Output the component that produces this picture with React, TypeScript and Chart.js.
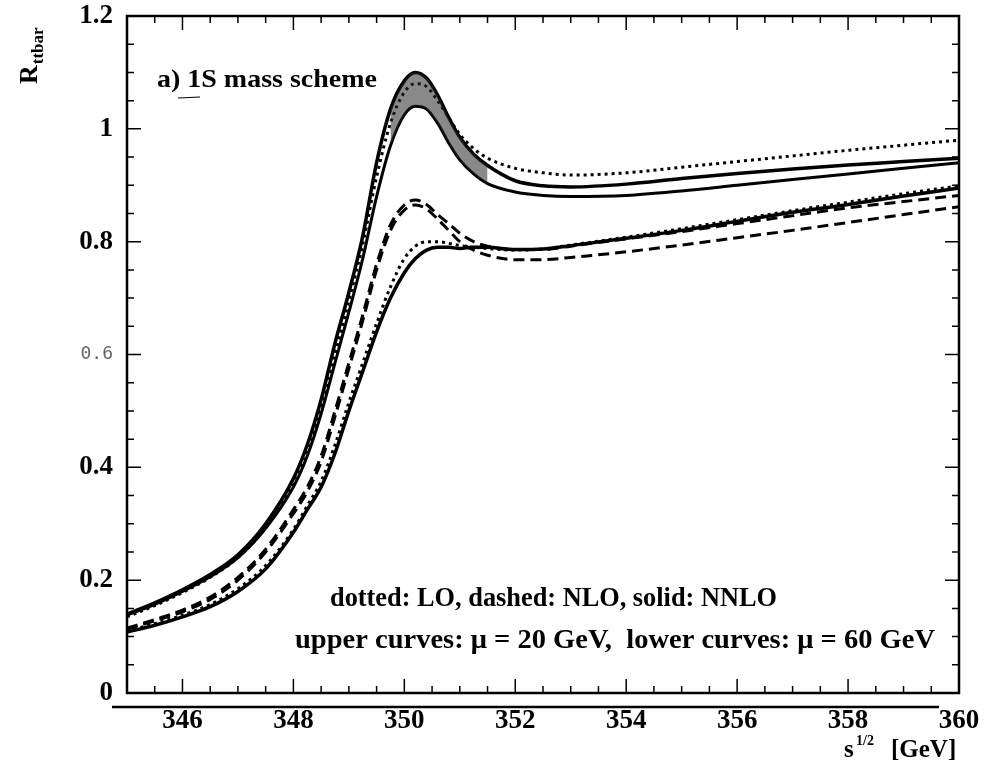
import React, { useEffect, useRef } from "react";
import { Chart, registerables } from "chart.js";

Chart.register(...registerables);

// sqrt(s) in GeV
const energies = [345, 345.5, 346, 346.5, 347, 347.5, 348, 348.25, 348.5, 348.75, 349, 349.25, 349.5, 349.75, 350, 350.2, 350.4, 350.6, 350.8, 351, 351.25, 351.5, 352, 352.5, 353, 354, 355, 356, 357, 358, 359, 360];

// upper curves (mu = 20 GeV)
const nnloMu20 = [0.140, 0.160, 0.183, 0.210, 0.245, 0.300, 0.380, 0.440, 0.520, 0.620, 0.710, 0.810, 0.940, 1.035, 1.085, 1.100, 1.090, 1.060, 1.020, 0.985, 0.955, 0.935, 0.908, 0.899, 0.897, 0.902, 0.912, 0.921, 0.929, 0.936, 0.942, 0.948];
const nnloMu20Band = [0.138, 0.157, 0.180, 0.206, 0.240, 0.292, 0.365, 0.420, 0.495, 0.585, 0.675, 0.770, 0.880, 0.970, 1.025, 1.040, 1.035, 1.010, 0.975, 0.945, 0.920, 0.903, 0.888, 0.882, 0.880, 0.882, 0.890, 0.900, 0.910, 0.920, 0.930, 0.940];
const loMu20 = [0.135, 0.155, 0.178, 0.205, 0.240, 0.293, 0.370, 0.430, 0.505, 0.600, 0.695, 0.795, 0.915, 1.010, 1.065, 1.080, 1.075, 1.050, 1.020, 0.990, 0.965, 0.948, 0.930, 0.922, 0.918, 0.922, 0.932, 0.942, 0.952, 0.962, 0.971, 0.980];
const nloMu20 = [0.115, 0.130, 0.147, 0.170, 0.205, 0.255, 0.325, 0.365, 0.420, 0.500, 0.585, 0.670, 0.760, 0.830, 0.865, 0.874, 0.866, 0.848, 0.832, 0.815, 0.800, 0.792, 0.786, 0.786, 0.792, 0.805, 0.818, 0.832, 0.846, 0.860, 0.871, 0.882];

// lower curves (mu = 60 GeV)
const nloMu60 = [0.113, 0.128, 0.144, 0.166, 0.200, 0.250, 0.318, 0.357, 0.410, 0.490, 0.575, 0.660, 0.750, 0.820, 0.856, 0.865, 0.858, 0.840, 0.820, 0.800, 0.785, 0.776, 0.768, 0.768, 0.772, 0.782, 0.794, 0.807, 0.820, 0.834, 0.848, 0.862];
const nnloMu60 = [0.108, 0.120, 0.135, 0.153, 0.180, 0.220, 0.285, 0.325, 0.365, 0.425, 0.500, 0.570, 0.640, 0.700, 0.745, 0.770, 0.785, 0.790, 0.790, 0.788, 0.790, 0.790, 0.786, 0.787, 0.793, 0.806, 0.820, 0.836, 0.852, 0.866, 0.881, 0.895];
const loMu60 = [0.110, 0.123, 0.138, 0.157, 0.185, 0.226, 0.290, 0.332, 0.375, 0.440, 0.515, 0.585, 0.655, 0.720, 0.770, 0.792, 0.800, 0.800, 0.797, 0.793, 0.790, 0.788, 0.785, 0.787, 0.794, 0.808, 0.823, 0.839, 0.855, 0.870, 0.885, 0.899];

// shaded region of the upper band near the peak
const bandRange = [349.75, 351.5];

const xTickValues = [346, 348, 350, 352, 354, 356, 358, 360];
const xTickLabels = ["346", "348", "350", "352", "354", "356", "358", "360"];
const yTickValues = [0, 0.2, 0.4, 0.6, 0.8, 1, 1.2];
const yTickLabels = ["0", "0.2", "0.4", "0.6", "0.8", "1", "1.2"];

const titleText = "a) 1S mass scheme";
const legendLine1 = "dotted: LO, dashed: NLO, solid: NNLO";
const legendLine2 = "upper curves: \u03bc = 20 GeV,  lower curves: \u03bc = 60 GeV";

const SERIF = '"Liberation Serif", "Times New Roman", serif';

function pts(values: number[]) {
  return energies.map((x, i) => ({ x, y: values[i] }));
}
function bandPts(values: number[]) {
  return energies
    .map((x, i) => ({ x, y: values[i] }))
    .filter((p) => p.x >= bandRange[0] && p.x <= bandRange[1]);
}

function drawStretched(ctx: CanvasRenderingContext2D, text: string, x: number, y: number, width: number, font: string) {
  ctx.save();
  ctx.font = font;
  const w = ctx.measureText(text).width;
  ctx.translate(x, y);
  ctx.scale(width / w, 1);
  ctx.textAlign = "left";
  ctx.textBaseline = "alphabetic";
  ctx.fillText(text, 0, 0);
  ctx.restore();
}

const framePlugin = {
  id: "frameAndText",
  afterDraw(chart: any) {
    const { ctx, chartArea } = chart;
    const xs = chart.scales.x;
    const ys = chart.scales.y;
    const { left, right, top, bottom } = chartArea;
    ctx.save();
    ctx.strokeStyle = "#000";
    ctx.fillStyle = "#000";
    ctx.lineWidth = 2.5;
    ctx.strokeRect(left, top, right - left, bottom - top);

    ctx.lineWidth = 1.5;
    // x ticks every 0.5 GeV, major every 2 GeV
    for (let k = 0; k <= 30; k++) {
      const v = 345 + k * 0.5;
      const px = xs.getPixelForValue(v);
      const major = Math.abs(v % 2) < 1e-6;
      const len = major ? 14 : 7;
      ctx.beginPath();
      ctx.moveTo(px, bottom);
      ctx.lineTo(px, bottom - len);
      ctx.moveTo(px, top);
      ctx.lineTo(px, top + len);
      ctx.stroke();
    }
    // y ticks every 0.05, major every 0.2
    for (let k = 0; k <= 24; k++) {
      const v = k * 0.05;
      const py = ys.getPixelForValue(v);
      const major = k % 4 === 0;
      const len = major ? 14 : 7;
      ctx.beginPath();
      ctx.moveTo(left, py);
      ctx.lineTo(left + len, py);
      ctx.moveTo(right, py);
      ctx.lineTo(right - len, py);
      ctx.stroke();
    }
    // extra rule beneath the axis
    ctx.lineWidth = 2.5;
    ctx.beginPath();
    ctx.moveTo(112, bottom + 14);
    ctx.lineTo(939, bottom + 14);
    ctx.stroke();

    // annotations
    drawStretched(ctx, titleText, 157, 87, 220, `bold 25px ${SERIF}`);
    ctx.lineWidth = 1.2;
    ctx.beginPath();
    ctx.moveTo(178, 98);
    ctx.lineTo(200, 97);
    ctx.stroke();
    drawStretched(ctx, legendLine1, 330, 606, 447, `bold 27px ${SERIF}`);
    drawStretched(ctx, legendLine2, 295, 648, 640, `bold 27px ${SERIF}`);

    // y-axis title: R_ttbar (rotated)
    ctx.save();
    ctx.translate(37, 84);
    ctx.rotate(-Math.PI / 2);
    ctx.font = `bold 26px ${SERIF}`;
    ctx.textAlign = "left";
    ctx.textBaseline = "alphabetic";
    ctx.fillText("R", 0, 0);
    const rw = ctx.measureText("R").width;
    ctx.font = `bold 17px ${SERIF}`;
    ctx.fillText("ttbar", rw + 1, 6);
    ctx.restore();

    // x-axis title: s^{1/2} [GeV]
    ctx.font = `bold 25px ${SERIF}`;
    ctx.textAlign = "left";
    ctx.textBaseline = "alphabetic";
    ctx.fillText("s", 844, 757);
    ctx.font = `bold 14px ${SERIF}`;
    ctx.fillText("1/2", 856, 745);
    ctx.font = `bold 25px ${SERIF}`;
    ctx.fillText("[GeV]", 891, 757);
    ctx.restore();
  },
};

export default function App() {
  const canvasRef = useRef<HTMLCanvasElement | null>(null);

  useEffect(() => {
    const canvas = canvasRef.current;
    if (!canvas) return;
    const solid = (label: string, values: number[], width = 3) => ({
      label,
      data: pts(values),
      borderColor: "#000",
      borderWidth: width,
      fill: false,
      pointRadius: 0,
      cubicInterpolationMode: "monotone" as const,
    });
    const dashed = (label: string, values: number[]) => ({
      ...solid(label, values, 3),
      borderDash: [11, 6],
    });
    const dotted = (label: string, values: number[]) => ({
      ...solid(label, values, 3),
      borderDash: [3, 4],
    });

    const chart = new Chart(canvas, {
      type: "line",
      data: {
        datasets: [
          {
            label: "band top",
            data: bandPts(nnloMu20),
            borderWidth: 0,
            borderColor: "rgba(0,0,0,0)",
            backgroundColor: "rgba(40,40,40,0.55)",
            pointRadius: 0,
            fill: "+1",
            cubicInterpolationMode: "monotone",
          },
          {
            label: "band bottom",
            data: bandPts(nnloMu20Band),
            borderWidth: 0,
            borderColor: "rgba(0,0,0,0)",
            pointRadius: 0,
            fill: false,
            cubicInterpolationMode: "monotone",
          },
          solid("NNLO, \u03bc = 20 GeV", nnloMu20, 3.5),
          solid("NNLO, \u03bc = 20 GeV (band)", nnloMu20Band, 3),
          dotted("LO, \u03bc = 20 GeV", loMu20),
          dashed("NLO, \u03bc = 20 GeV", nloMu20),
          dashed("NLO, \u03bc = 60 GeV", nloMu60),
          solid("NNLO, \u03bc = 60 GeV", nnloMu60, 3.5),
          dotted("LO, \u03bc = 60 GeV", loMu60),
        ] as any,
      },
      options: {
        animation: false,
        responsive: false,
        maintainAspectRatio: false,
        layout: { padding: { top: 16, right: 26, left: 0, bottom: 0 } },
        plugins: { legend: { display: false }, tooltip: { enabled: false } },
        elements: { point: { radius: 0 } },
        scales: {
          x: {
            type: "linear",
            min: 345,
            max: 360,
            grid: { display: false, drawTicks: false },
            border: { display: false },
            afterBuildTicks: (s: any) => {
              s.ticks = xTickValues.map((v) => ({ value: v }));
            },
            afterFit: (s: any) => {
              s.height = 91;
              s.paddingLeft = 0;
              s.paddingRight = 0;
            },
            ticks: {
              autoSkip: false,
              maxRotation: 0,
              padding: 12,
              color: "#000",
              font: { family: SERIF, weight: "bold", size: 27 },
              callback: (_v: any, i: number) => xTickLabels[i],
            },
          },
          y: {
            type: "linear",
            min: 0,
            max: 1.2,
            grid: { display: false, drawTicks: false },
            border: { display: false },
            afterBuildTicks: (s: any) => {
              s.ticks = yTickValues.map((v) => ({ value: v }));
            },
            afterFit: (s: any) => {
              s.width = 127;
              s.paddingTop = 0;
              s.paddingBottom = 0;
            },
            ticks: {
              autoSkip: false,
              padding: 14,
              color: (c: any) => (yTickLabels[c.index] === "0.6" ? "#666" : "#000"),
              font: (c: any) =>
                yTickLabels[c.index] === "0.6"
                  ? { family: '"DejaVu Sans Mono", monospace', weight: "normal", size: 18 }
                  : { family: SERIF, weight: "bold", size: 27 },
              callback: (_v: any, i: number) => yTickLabels[i],
            },
          },
        },
      } as any,
      plugins: [framePlugin],
    });
    return () => chart.destroy();
  }, []);

  return (
    <div style={{ position: "absolute", left: 0, top: 0, width: 985, height: 784, background: "#fff" }}>
      <canvas ref={canvasRef} width={985} height={784} style={{ display: "block", width: 985, height: 784 }} />
    </div>
  );
}
